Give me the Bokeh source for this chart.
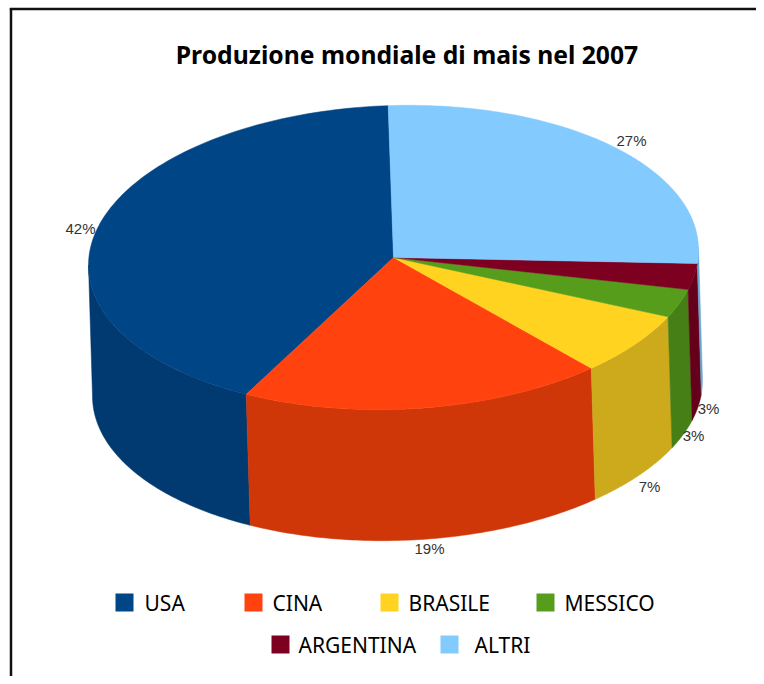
import numpy as np
from bokeh.plotting import figure
from bokeh.models import Range1d
from bokeh.core.properties import value
from bokeh.embed import file_html
from bokeh.resources import INLINE

title = "Produzione mondiale di mais nel 2007"
categories = ["USA", "CINA", "BRASILE", "MESSICO", "ARGENTINA", "ALTRI"]
labels = ["42%", "19%", "7%", "3%", "3%", "27%"]
# shares as drawn in the picture (the sweep of each slice follows these)
shares = [41.7, 19.25, 6.6, 3.0, 2.75, 26.7]
top_colors = ["#004586", "#ff420e", "#ffd320", "#579d1c", "#7e0021", "#83caff"]
side_colors = ["#003a70", "#cf3608", "#ccaa1c", "#467f15", "#65001a", "#6aa4d0"]

CX, CY, RX, RY = 393.0, 257.0, 305.0, 152.0
TILT = 0.025
DX, DY = 4.0, 131.0
START = 1.0


def pt(deg):
    a = np.radians(deg)
    x = CX - RX * np.sin(a)
    y = CY - RY * np.cos(a) - TILT * (x - CX)
    return x, y


p = figure(width=756, height=676, output_backend="svg", toolbar_location=None,
           x_range=Range1d(0, 756), y_range=Range1d(676, 0),
           x_axis_type=None, y_axis_type=None, min_border=0,
           background_fill_color="white", border_fill_color="white")
p.grid.visible = False
p.outline_line_color = None

fr = np.cumsum([0] + shares) / sum(shares) * 360 + START

# side walls (visible for the front half only)
for i in range(len(shares)):
    a0, a1 = max(fr[i], 90.0), min(fr[i + 1], 271.0)
    if a1 <= a0:
        continue
    t = np.linspace(a0, a1, 80)
    x, y = pt(t)
    xs = np.concatenate([x, x[::-1] + DX])
    ys = np.concatenate([y, y[::-1] + DY])
    p.patch(xs, ys, fill_color=side_colors[i], line_color=side_colors[i], line_width=0.5)

# top face
for i in range(len(shares)):
    t = np.linspace(fr[i], fr[i + 1], 120)
    x, y = pt(t)
    p.patch(np.r_[CX, x], np.r_[CY, y], fill_color=top_colors[i],
            line_color=top_colors[i], line_width=0.5)

# percent labels
lab_x = [80, 429, 649, 693, 708, 631]
lab_y = [228, 548, 486, 435, 408, 140]
p.text(lab_x, lab_y, text=labels, text_font=value("Liberation Sans"),
       text_font_size="15px", text_color="#333333", text_align="center",
       text_baseline="middle")

# title
p.text([406.5], [54], text=[title], text_font=value("Noto Sans"), text_font_style="bold",
       text_font_size="24.7px", text_color="black", text_align="center",
       text_baseline="middle")

# legend
sq_x = [124, 253, 389, 545, 280, 449]
sq_y = [602, 602, 602, 602, 644, 644]
tx_x = [144, 272, 408, 564, 298, 474]
p.rect(sq_x, sq_y, width=18, height=18, fill_color=top_colors, line_color=None)
p.text(tx_x, sq_y, text=categories, text_font=value("Noto Sans"), text_font_size="21px",
       text_color="black", text_align="left", text_baseline="middle")

# frame
p.line([10.5, 10.5], [8, 676], line_color="#111111", line_width=2.5)
p.line([9.25, 756], [8.5, 8.5], line_color="#111111", line_width=2.5)

open("out.html", "w").write(file_html(p, INLINE))
